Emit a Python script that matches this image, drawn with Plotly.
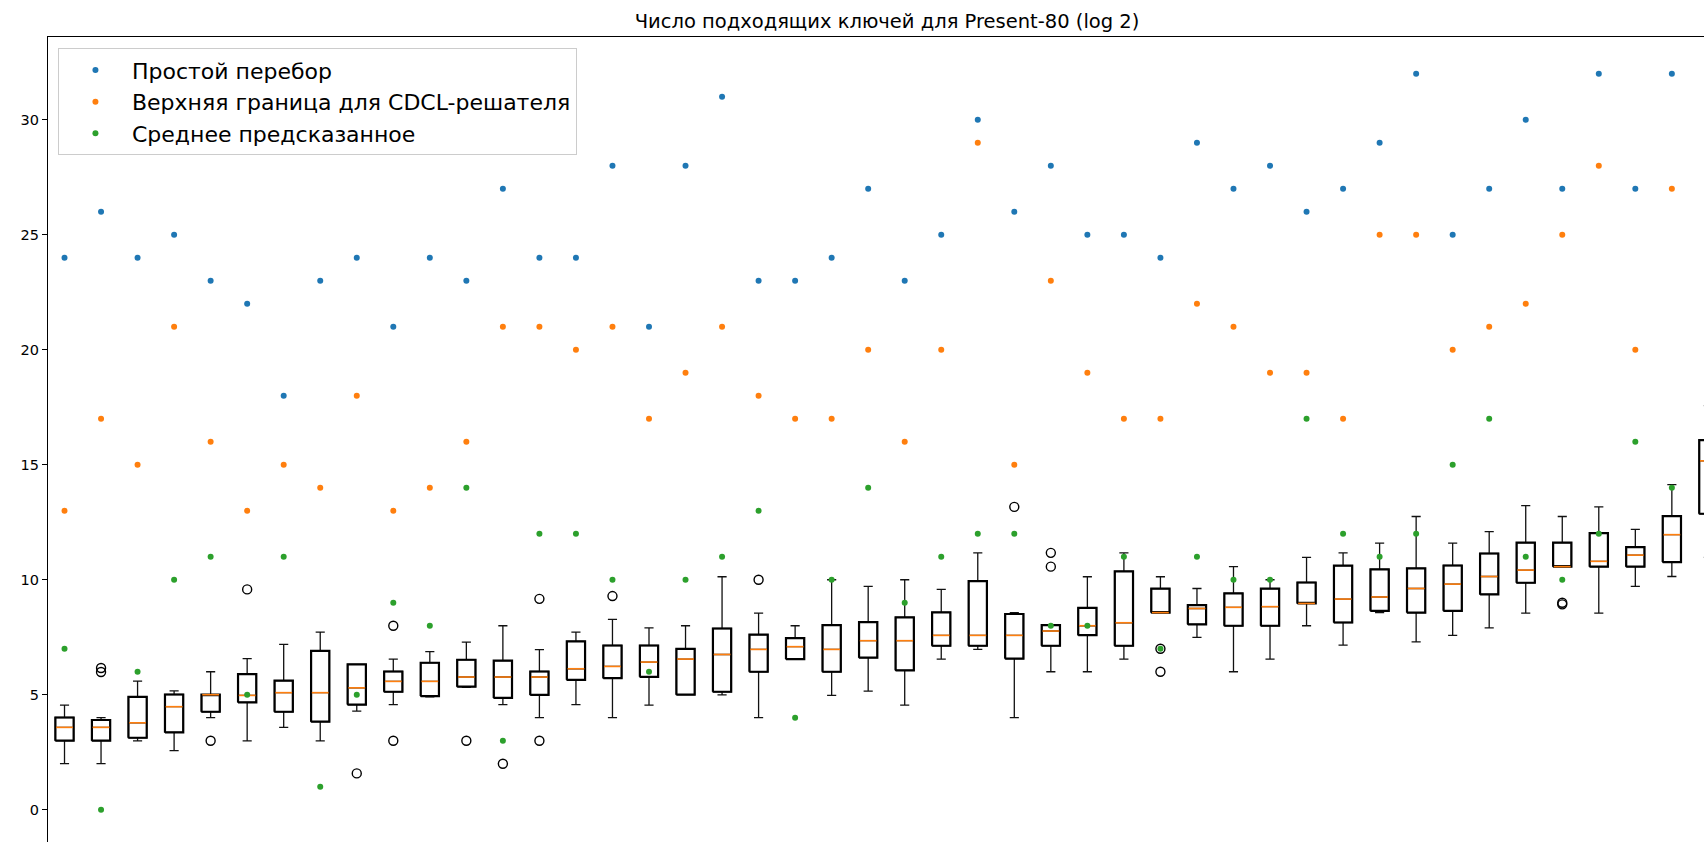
import plotly.graph_objects as go

# Box statistics per configuration (log2 of candidate key counts)
box_pos = list(range(1, 47))
whisker_lo = [2.0, 2.0, 2.99, 2.57, 4.0, 2.99, 3.58, 2.99, 4.29, 4.57,
              4.91, 5.32, 4.57, 4.0, 4.57, 4.0, 4.55, 5.0, 4.99, 4.0,
              6.55, 4.97, 5.16, 4.55, 6.55, 6.97, 4.0, 6.0, 6.0, 6.55,
              8.57, 7.49, 6.0, 6.55, 8.0, 7.16, 8.57, 7.30, 7.58, 7.91,
              8.55, 10.57, 8.55, 9.71, 10.14, 10.97]
q1 = [3.0, 3.0, 3.13, 3.36, 4.26, 4.67, 4.26, 3.83, 4.57, 5.13,
      4.94, 5.35, 4.86, 4.99, 5.65, 5.72, 5.78, 5.0, 5.13, 6.0,
      6.55, 6.0, 6.61, 6.06, 7.13, 7.13, 6.57, 7.13, 7.59, 7.13,
      8.57, 8.06, 8.0, 8.0, 8.97, 8.14, 8.65, 8.57, 8.65, 9.36,
      9.87, 10.57, 10.57, 10.57, 10.77, 12.87]
median = [3.58, 3.58, 3.78, 4.48, 5.0, 4.97, 5.09, 5.09, 5.30, 5.58,
          5.58, 5.77, 5.77, 5.77, 6.13, 6.23, 6.42, 6.55, 6.75, 6.97,
          7.09, 6.97, 7.35, 7.35, 7.58, 7.58, 7.58, 7.77, 8.0, 8.13,
          8.57, 8.75, 8.80, 8.83, 8.97, 9.16, 9.25, 9.62, 9.81, 10.14,
          10.42, 10.57, 10.80, 11.07, 11.96, 15.17]
q3 = [4.01, 3.90, 4.91, 5.01, 5.0, 5.90, 5.61, 6.91, 6.32, 6.01,
      6.39, 6.52, 6.48, 6.01, 7.32, 7.14, 7.14, 6.99, 7.88, 7.61,
      7.46, 8.03, 8.16, 8.36, 8.58, 9.94, 8.51, 8.03, 8.78, 10.36,
      9.61, 8.90, 9.41, 9.61, 9.88, 10.61, 10.45, 10.49, 10.62, 11.14,
      11.61, 11.61, 12.03, 11.42, 12.77, 16.07]
whisker_hi = [4.55, 4.0, 5.59, 5.17, 6.0, 6.57, 7.19, 7.72, 6.32, 6.55,
              6.87, 7.29, 8.0, 6.96, 7.72, 8.28, 7.91, 8.0, 10.13, 8.55,
              8.0, 10.0, 9.71, 10.0, 9.58, 11.17, 8.57, 8.03, 10.13, 11.17,
              10.13, 9.62, 10.57, 10.0, 10.97, 11.17, 11.59, 12.75, 11.59, 12.09,
              13.22, 12.75, 13.17, 12.19, 14.14, 17.57]

# Outliers beyond the whiskers
flier_pos = [2, 2, 5, 6, 9, 10, 10, 12, 13, 14, 14, 16, 20, 27, 28, 28, 31, 31, 42, 42]
flier_val = [6.16, 5.99, 3.0, 9.58, 1.58, 8.0, 3.0, 3.0, 2.0, 9.17,
             3.0, 9.29, 10.0, 13.17, 11.17, 10.57, 7.0, 6.0, 9.0, 8.93]

# Point estimates per configuration
dot_pos = list(range(1, 46))
brute_force = [24, 26, 24, 25, 23, 22, 18, 23, 24, 21, 24, 23, 27, 24, 24,
               28, 21, 28, 31, 23, 23, 24, 27, 23, 25, 30, 26, 28, 25, 25,
               24, 29, 27, 28, 26, 27, 29, 32, 25, 27, 30, 27, 32, 27, 32]
cdcl_upper = [13, 17, 15, 21, 16, 13, 15, 14, 18, 13, 14, 16, 21, 21, 20,
              21, 17, 19, 21, 18, 17, 17, 20, 16, 20, 29, 15, 23, 19, 17,
              17, 22, 21, 19, 19, 17, 25, 25, 20, 21, 22, 25, 28, 20, 27]
predicted_mean = [7, 0, 6, 10, 11, 5, 11, 1, 5, 9, 8, 14, 3, 12, 12,
                  10, 6, 10, 11, 13, 4, 10, 14, 9, 11, 12, 12, 8, 8, 11,
                  7, 11, 10, 10, 17, 12, 11, 12, 15, 17, 11, 10, 12, 16, 14]

labels = ["Простой перебор", "Верхняя граница для CDCL-решателя", "Среднее предсказанное"]
colors = ["#1f77b4", "#ff7f0e", "#2ca02c"]
title = "Число подходящих ключей для Present-80 (log 2)"
y_ticks = [0, 5, 10, 15, 20, 25, 30]

BOX_W = 0.5
FONT = "DejaVu Sans"

fig = go.Figure()

# whiskers, caps and thin median
fig.add_trace(go.Box(
    x=box_pos, q1=q1, median=median, q3=q3,
    lowerfence=whisker_lo, upperfence=whisker_hi,
    width=BOX_W, whiskerwidth=0.5, boxpoints=False,
    line=dict(color="#111111", width=1.3),
    fillcolor="rgba(0,0,0,0)", showlegend=False, hoverinfo="skip"))

# heavier outline of each box body (q1..q3)
bx, by = [], []
for p, lo, hi in zip(box_pos, q1, q3):
    bx += [p - BOX_W / 2, p + BOX_W / 2, p + BOX_W / 2, p - BOX_W / 2, p - BOX_W / 2, None]
    by += [lo, lo, hi, hi, lo, None]
fig.add_trace(go.Scatter(x=bx, y=by, mode="lines",
                         line=dict(color="#000000", width=2.2),
                         showlegend=False, hoverinfo="skip"))

# orange median lines
mx, my = [], []
for p, m in zip(box_pos, median):
    mx += [p - BOX_W / 2 + 0.02, p + BOX_W / 2 - 0.02, None]
    my += [m, m, None]
fig.add_trace(go.Scatter(x=mx, y=my, mode="lines",
                         line=dict(color="#ff7f0e", width=1.6),
                         showlegend=False, hoverinfo="skip"))

# outliers
fig.add_trace(go.Scatter(x=flier_pos, y=flier_val, mode="markers",
                         marker=dict(symbol="circle-open", size=9,
                                     color="#000000", line=dict(width=1.4)),
                         showlegend=False, hoverinfo="skip"))

for name, vals, c in zip(labels, [brute_force, cdcl_upper, predicted_mean], colors):
    fig.add_trace(go.Scatter(x=dot_pos, y=vals, mode="markers", name=name,
                             legendgroup=name,
                             marker=dict(size=6, color=c)))

fig.update_layout(
    width=1704, height=842,
    margin=dict(l=48, r=0, t=37, b=0),
    paper_bgcolor="white", plot_bgcolor="white",
    font=dict(family=FONT, color="#000000"),
    boxmode="overlay",
    title=dict(text=title, x=887 / 1704, xref="container", xanchor="center",
               y=1 - 21 / 842, yref="container", yanchor="middle",
               font=dict(size=19.5, family=FONT, color="#000000")),
    legend=dict(x=0.006, y=0.986, xanchor="left", yanchor="top",
                bgcolor="rgba(255,255,255,0.85)", bordercolor="#cccccc",
                borderwidth=1, font=dict(size=22, family=FONT, color="#000000"),
                itemwidth=63, tracegroupgap=0),
    xaxis=dict(range=[0.548, 45.88], side="top", showline=True,
               linecolor="#000000", linewidth=1.2, mirror=False,
               showticklabels=False, ticks="", showgrid=False, zeroline=False),
    yaxis=dict(range=[-1.404, 33.60], showline=True, linecolor="#000000",
               linewidth=1.2, ticks="outside", ticklen=5, tickwidth=1.2,
               tickcolor="#000000", tickvals=y_ticks,
               tickfont=dict(size=14.5, family=FONT, color="#000000"),
               showgrid=False, zeroline=False),
)

fig.write_html("out.html")
